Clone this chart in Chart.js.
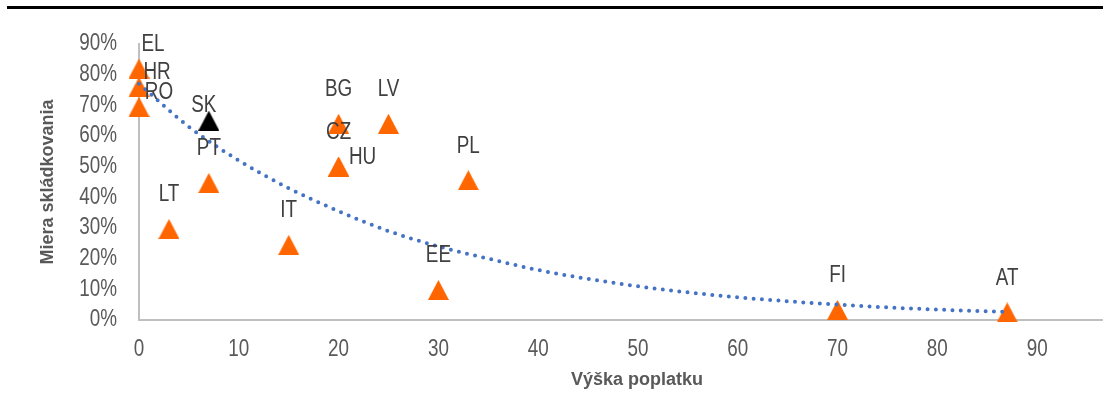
<!DOCTYPE html>
<html>
<head>
<meta charset="utf-8">
<script src="https://cdn.jsdelivr.net/npm/chart.js@4"></script>
<style>
  html, body { margin: 0; padding: 0; background: #fff; }
  #wrap { position: relative; width: 1103px; height: 403px; }
  #topline { position: absolute; left: 7px; top: 6px; width: 1096px; height: 3px; background: #000; }
  #chart { position: absolute; left: 0; top: 0; }
</style>
</head>
<body>
<div id="wrap">
  <div id="topline"></div>
  <canvas id="chart" width="1103" height="403"></canvas>
</div>
<script>
const countries = ["EL", "HR", "RO", "SK", "PT", "LT", "IT", "BG", "CZ", "HU", "LV", "EE", "PL", "FI", "AT"];
const fees = [0, 0, 0, 7, 7, 3, 15, 20, 20, 20, 25, 30, 33, 70, 87];
const landfillRates = [0.82, 0.76, 0.695, 0.65, 0.447, 0.297, 0.245, 0.64, 0.50, 0.50, 0.64, 0.098, 0.456, 0.033, 0.025];

const trendX = [0, 5, 10, 15, 20, 25, 30, 35, 40, 45, 50, 55, 60, 65, 70, 75, 80, 87];
const trendY = [0.77, 0.63, 0.52, 0.43, 0.355, 0.29, 0.24, 0.20, 0.163, 0.134, 0.11, 0.09, 0.074, 0.061, 0.05, 0.041, 0.034, 0.026];

const xTicks = [0, 10, 20, 30, 40, 50, 60, 70, 80, 90];
const yTicks = [0, 0.1, 0.2, 0.3, 0.4, 0.5, 0.6, 0.7, 0.8, 0.9];
const xTitle = "Výška poplatku";
const yTitle = "Miera skládkovania";

// label nudges for the crowded points (px), everything else sits above its marker
const labelOffsets = {
  EL: [14, -24],
  HR: [18, -14],
  RO: [20, -14],
  SK: [-5, -15],
  HU: [24, -9],
};

const orange = "#FF6600";
const narrowFont = "23px 'Liberation Sans', Arial, sans-serif";
const squeeze = 0.82; // no Arial Narrow here, so squash regular text instead
const titleFamily = "'Liberation Sans', Arial, sans-serif";

function makeTriangle(color) {
  const c = document.createElement("canvas");
  c.width = 21;
  c.height = 20;
  const g = c.getContext("2d");
  g.fillStyle = color;
  g.beginPath();
  g.moveTo(10.5, 0);
  g.lineTo(21, 20);
  g.lineTo(0, 20);
  g.closePath();
  g.fill();
  return c;
}

const orangeTri = makeTriangle(orange);
const blackTri = makeTriangle("#000000");

function narrowText(ctx, text, x, y, align) {
  ctx.save();
  ctx.translate(x, y);
  ctx.scale(squeeze, 1);
  ctx.textAlign = align;
  ctx.fillText(text, 0, 0);
  ctx.restore();
}

const customText = {
  id: "customText",
  afterDraw(chart) {
    const ctx = chart.ctx;
    const xs = chart.scales.x;
    const ys = chart.scales.y;
    ctx.save();
    ctx.font = narrowFont;
    ctx.textBaseline = "middle";

    ctx.fillStyle = "#595959";
    xTicks.forEach((v) => narrowText(ctx, String(v), xs.getPixelForValue(v), 350, "center"));
    yTicks.forEach((v) => narrowText(ctx, Math.round(v * 100) + "%", 117, ys.getPixelForValue(v), "right"));

    ctx.fillStyle = "#404040";
    chart.getDatasetMeta(1).data.forEach((pt, i) => {
      const name = countries[i];
      const off = labelOffsets[name] || [0, -34];
      narrowText(ctx, name, pt.x + off[0], pt.y + off[1], "center");
    });

    ctx.font = "bold 18px " + titleFamily;
    ctx.fillStyle = "#595959";
    ctx.textAlign = "center";
    ctx.fillText(xTitle, 637, 380);
    ctx.restore();
  },
};

new Chart(document.getElementById("chart"), {
  type: "scatter",
  data: {
    datasets: [
      {
        type: "line",
        label: "trend",
        data: trendX.map((x, i) => ({ x: x, y: trendY[i] })),
        borderColor: "#4472C4",
        borderWidth: 4,
        borderDash: [0, 8.3],
        borderCapStyle: "round",
        pointRadius: 0,
        fill: false,
        clip: false,
        cubicInterpolationMode: "monotone",
      },
      {
        label: "krajiny",
        data: fees.map((x, i) => ({ x: x, y: landfillRates[i] })),
        pointStyle: (c) => (countries[c.dataIndex] === "SK" ? blackTri : orangeTri),
        pointRadius: 10,
        pointHoverRadius: 10,
        clip: false,
      },
    ],
  },
  options: {
    responsive: false,
    animation: false,
    layout: { autoPadding: false, padding: { top: 44, right: 0, left: 0, bottom: 0 } },
    plugins: {
      legend: { display: false },
      tooltip: { enabled: false },
    },
    scales: {
      x: {
        type: "linear",
        min: 0,
        max: 96.6,
        afterBuildTicks: (scale) => {
          scale.ticks = xTicks.map((v) => ({ value: v }));
        },
        afterFit: (scale) => {
          scale.height = 83;
        },
        grid: { display: false, drawTicks: false },
        border: { color: "#BFBFBF", width: 2 },
        ticks: { display: false },
      },
      y: {
        min: 0,
        max: 0.9,
        afterBuildTicks: (scale) => {
          scale.ticks = yTicks.map((v) => ({ value: v }));
        },
        afterFit: (scale) => {
          scale.width = 139;
        },
        grid: { display: false, drawTicks: false },
        border: { color: "#BFBFBF", width: 2 },
        ticks: { display: false },
        title: {
          display: true,
          text: yTitle,
          color: "#595959",
          font: { family: titleFamily, size: 18, weight: "bold" },
          padding: { top: 37, bottom: 0 },
        },
      },
    },
  },
  plugins: [customText],
});
</script>
</body>
</html>
